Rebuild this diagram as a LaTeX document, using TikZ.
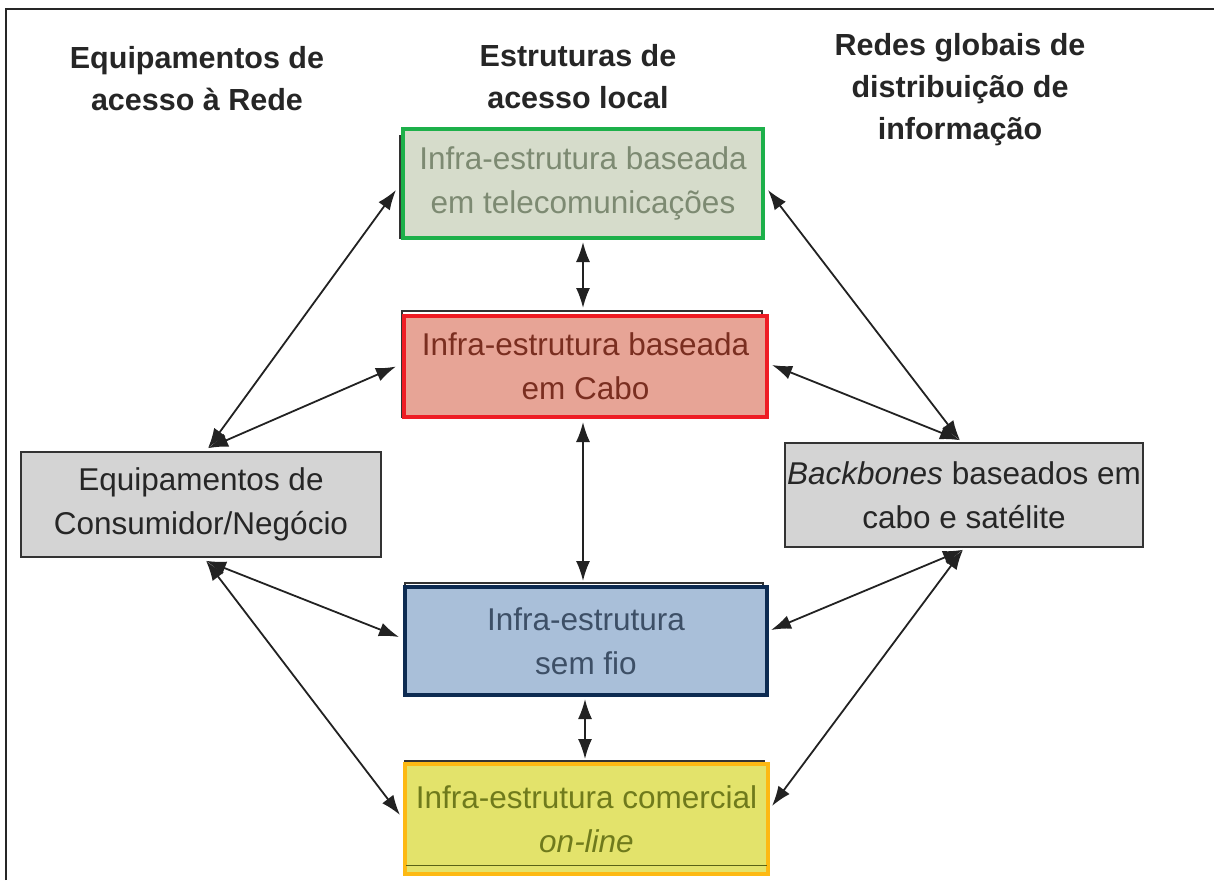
\documentclass[tikz,border=0pt]{standalone}
\usepackage{fontspec}
\setmainfont{Liberation Sans}
\usetikzlibrary{arrows.meta}
\definecolor{telfill}{HTML}{D6DCCB}
\definecolor{teltext}{HTML}{7D8A72}
\definecolor{telborder}{HTML}{1DB04A}
\definecolor{cabfill}{HTML}{E7A496}
\definecolor{cabtext}{HTML}{7A2E20}
\definecolor{cabborder}{HTML}{EE1C24}
\definecolor{grayfill}{HTML}{D4D4D4}
\definecolor{graytext}{HTML}{262626}
\definecolor{grayborder}{HTML}{333333}
\definecolor{sffill}{HTML}{A9BFD9}
\definecolor{sftext}{HTML}{3D4F66}
\definecolor{sfborder}{HTML}{0D2B52}
\definecolor{comfill}{HTML}{E3E36B}
\definecolor{comtext}{HTML}{6F7A1C}
\definecolor{comborder}{HTML}{FDB913}
\definecolor{arrowcol}{HTML}{222222}
\tikzset{
  title/.style={inner sep=0pt, align=center, text=graytext,
    font=\bfseries\fontsize{30.5}{42}\selectfont},
  box/.style={rectangle, inner sep=0pt, align=center,
    font=\fontsize{31.5}{44}\selectfont},
  colbox/.style={box, line width=4pt},
  graybox/.style={box, draw=grayborder, line width=1.5pt, fill=grayfill, text=graytext},
  backbox/.style={draw=grayborder, line width=1.2pt},
  link/.style={draw=arrowcol, line width=1.8pt,
    arrows={Latex[length=20pt,width=14pt]-Latex[length=20pt,width=14pt]}}
}
\begin{document}
\begin{tikzpicture}[x=1pt,y=-1pt]
\useasboundingbox (0,0) rectangle (1214,880);
\fill[white] (0,0) rectangle (1214,880);
% frame
\draw[line width=2.5pt, black!85] (6,880) -- (6,9) -- (1214,9);
% titles
\node[title] (t1) at (197,79) {Equipamentos de\\acesso à Rede};
\node[title] (t2) at (578,77) {Estruturas de\\acesso local};
\node[title] (t3) at (960,90) {Redes globais de\\distribuição de\\informação};
% underlying scanned boxes
\draw[backbox] (400,136) rectangle (761,238);
\draw[backbox] (402,311) rectangle (762,417);
\draw[backbox] (405,583) rectangle (763,690);
\draw[backbox] (405,761) rectangle (764,863);
% boxes
\node[colbox, draw=telborder, fill=telfill, text=teltext, minimum width=360pt, minimum height=109pt]
  (tel) at (583,183.5) {Infra-estrutura baseada\\em telecomunicações};
\node[colbox, draw=cabborder, fill=cabfill, text=cabtext, minimum width=363pt, minimum height=101pt]
  (cab) at (585.5,366.5) {Infra-estrutura baseada\\em Cabo};
\node[graybox, minimum width=360pt, minimum height=105pt]
  (cons) at (201,504.5) {Equipamentos de\\Consumidor/Negócio};
\node[graybox, minimum width=358pt, minimum height=104pt]
  (bb) at (964,495) {\textit{Backbones} baseados em\\cabo e satélite};
\node[colbox, draw=sfborder, fill=sffill, text=sftext, minimum width=362pt, minimum height=108pt]
  (sf) at (586,641) {Infra-estrutura\\sem fio};
\node[colbox, draw=comborder, fill=comfill, text=comtext, minimum width=363pt, minimum height=110pt]
  (com) at (586.5,819) {Infra-estrutura comercial\\\textit{on-line}};
\draw[comtext!80!black, line width=1pt] ([xshift=3pt,yshift=11pt]com.south west) -- ([xshift=-3pt,yshift=11pt]com.south east);
% connectors
\draw[link] ([xshift=7pt,yshift=3pt]cons.north) -- ([xshift=-5pt,yshift=-6.5pt]tel.west);
\draw[link] ([xshift=7pt,yshift=3pt]cons.north) -- ([xshift=-6pt]cab.west);
\draw[link] ([xshift=5pt,yshift=-3pt]cons.south) -- ([xshift=-4pt,yshift=4pt]sf.west);
\draw[link] ([xshift=5pt,yshift=-3pt]cons.south) -- ([xshift=-3pt,yshift=4pt]com.west);
\draw[link] ([xshift=-4pt,yshift=2pt]bb.north) -- ([xshift=3pt,yshift=-6.5pt]tel.east);
\draw[link] ([xshift=-4pt,yshift=2pt]bb.north) -- ([xshift=3pt,yshift=1.5pt]cab.east);
\draw[link] ([xshift=-1pt,yshift=-2pt]bb.south) -- ([xshift=2pt,yshift=11pt]sf.east);
\draw[link] ([xshift=-1pt,yshift=-2pt]bb.south) -- ([xshift=2pt,yshift=13pt]com.east);
\draw[link] ([yshift=-2pt]tel.south) -- ([xshift=-2.5pt,yshift=6pt]cab.north);
\draw[link] ([xshift=-2.5pt,yshift=-3pt]cab.south) -- ([xshift=-3pt,yshift=4pt]sf.north);
\draw[link] ([xshift=-1pt,yshift=-2pt]sf.south) -- ([xshift=-1.5pt,yshift=3pt]com.north);
\end{tikzpicture}
\end{document}
